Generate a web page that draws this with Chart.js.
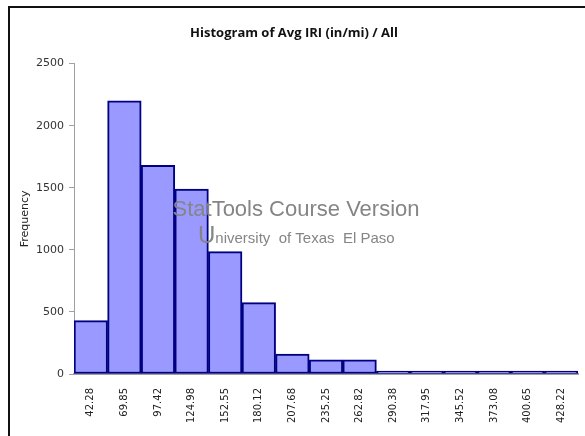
<!DOCTYPE html>
<html>
<head>
<meta charset="utf-8">
<script src="https://cdn.jsdelivr.net/npm/chart.js@4"></script>
<style>
    body { margin: 0; background: #fff; }
    #frame { position: absolute; left: 8px; top: 6px; width: 600px; height: 460px; border: 2px solid #111; }
    #wrap { position: absolute; left: 0; top: 0; width: 585px; height: 436px; }
</style>
</head>
<body>
<div id="frame"></div>
<div id="wrap"><canvas id="histogramChart" width="585" height="436"></canvas></div>
<script>
// bin midpoints as printed on the x axis
const binLabels = [`42.28`, `69.85`, `97.42`, `124.98`, `152.55`, `180.12`, `207.68`, `235.25`,
    `262.82`, `290.38`, `317.95`, `345.52`, `373.08`, `400.65`, `428.22`];
// counts
const frequencies = [430, 2200, 1680, 1490, 985, 575, 160, 115, 115, 20, 20, 20, 20, 12, 12];
const yTicks = [0, 500, 1000, 1500, 2000, 2500];

const watermark = {
    id: `watermark`,
    afterDraw(chart) {
        const ctx = chart.ctx;
        ctx.save();
        ctx.fillStyle = `#858585`;
        ctx.textBaseline = `alphabetic`;
        ctx.textAlign = `center`;
        ctx.font = `22px "Liberation Sans", Arial, sans-serif`;
        ctx.fillText(`StatTools Course Version`, 296, 216);

        ctx.textAlign = `left`;
        ctx.font = `24px "Liberation Sans", Arial, sans-serif`;
        ctx.fillText(`U`, 198, 243);
        const uWidth = ctx.measureText(`U`).width;
        ctx.font = `15px "Liberation Sans", Arial, sans-serif`;
        ctx.fillText(`niversity  of Texas  El Paso`, 198 + uWidth, 243);
        ctx.restore();
    }
};

const ctx = document.getElementById(`histogramChart`).getContext(`2d`);
const chart = new Chart(ctx, {
    type: `bar`,
    data: {
        labels: binLabels,
        datasets: [{
            label: `Frequency`,
            data: frequencies,
            backgroundColor: `#9999FF`,
            borderColor: `#000080`,
            borderWidth: 2,
            borderSkipped: false,
            minBarLength: 3,
            categoryPercentage: 1,
            barPercentage: 1
        }]
    },
    options: {
        responsive: false,
        animation: false,
        layout: { padding: { left: 10, right: 7, top: 0, bottom: 0 } },
        plugins: {
            legend: { display: false },
            tooltip: { enabled: false },
            title: {
                display: true,
                text: `Histogram of Avg IRI (in/mi) / All`,
                color: `#111`,
                font: { family: `"Open Sans", sans-serif`, size: 13, weight: `bold` },
                padding: { top: 25, bottom: 23 }
            }
        },
        scales: {
            x: {
                grid: { display: false },
                border: { display: true, color: `#a0a0a0`, width: 2 },
                ticks: {
                    minRotation: 90,
                    maxRotation: 90,
                    color: `#222`,
                    padding: 6,
                    font: { family: `"DejaVu Sans", sans-serif`, size: 10 }
                },
                afterFit(scale) { scale.height = 62; }
            },
            y: {
                min: 0,
                max: 2500,
                afterBuildTicks(scale) { scale.ticks = yTicks.map(v => ({ value: v })); },
                grid: { drawOnChartArea: false, color: `#a0a0a0`, tickLength: 5 },
                border: { display: true, color: `#a0a0a0`, width: 1 },
                ticks: {
                    color: `#333`,
                    padding: 5,
                    font: { family: `"DejaVu Sans", sans-serif`, size: 11 },
                    callback: value => String(value)
                },
                title: {
                    display: true,
                    text: `Frequency`,
                    color: `#222`,
                    padding: { top: 9, bottom: 0 },
                    font: { family: `"DejaVu Sans", sans-serif`, size: 11 }
                },
                afterFit(scale) { scale.width = 64; }
            }
        }
    },
    plugins: [watermark]
});
</script>
</body>
</html>
